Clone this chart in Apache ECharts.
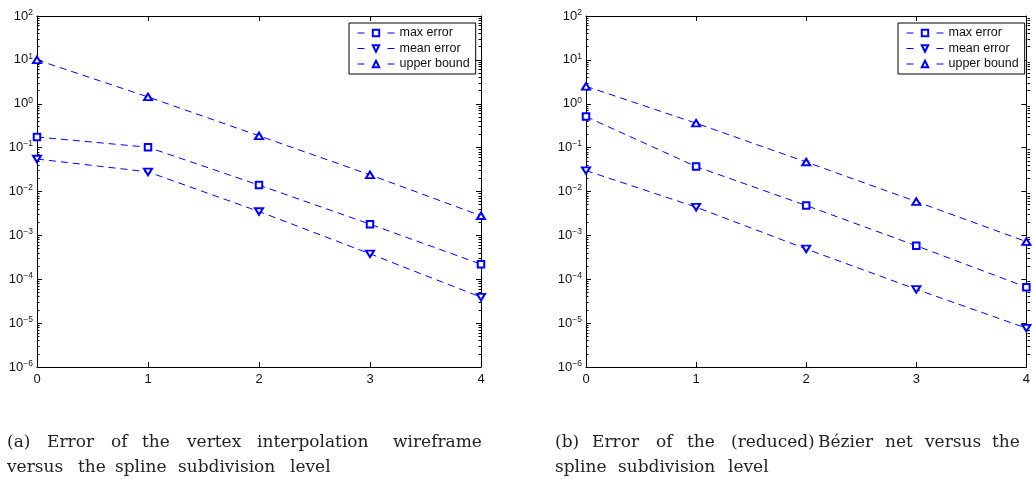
<!DOCTYPE html>
<html>
<head>
<meta charset="utf-8">
<script src="https://cdn.jsdelivr.net/npm/echarts@6/dist/echarts.min.js"></script>
<style>
  html, body { margin: 0; padding: 0; background: #fff; }
  #chart { width: 1033px; height: 479px; }
</style>
</head>
<body>
<div id="chart"></div>
<script>
// subdivision levels (x axis)
const levels = [0, 1, 2, 3, 4];
const xTickLabels = ['0', '1', '2', '3', '4'];

// (a) vertex interpolation wireframe
const wireMax = [0.175, 0.102, 0.014, 0.0018, 0.00022];
const wireMean = [0.055, 0.028, 0.0035, 0.00038, 0.000039];
const wireBound = [10, 1.43, 0.186, 0.024, 0.0028];

// (b) reduced Bezier net
const netMax = [0.51, 0.037, 0.0048, 0.00058, 0.000066];
const netMean = [0.030, 0.0044, 0.00049, 0.000059, 0.0000077];
const netBound = [2.5, 0.36, 0.047, 0.0059, 0.00072];

// y axis decades (exponents of 10)
const yExponents = [-6, -5, -4, -3, -2, -1, 0, 1, 2];
const seriesNames = ['max error', 'mean error', 'upper bound'];

const captionA1 = [['(a)', 7], ['Error', 47], ['of', 111], ['the', 142], ['vertex', 187], ['interpolation', 257], ['wireframe', 393]];
const captionA2 = [['versus', 7], ['the', 78], ['spline', 115], ['subdivision', 178], ['level', 290]];
const captionB1 = [['(b)', 555], ['Error', 592], ['of', 656], ['the', 687], ['(reduced)', 731], ['Bézier', 818], ['net', 885], ['versus', 925], ['the', 992]];
const captionB2 = [['spline', 555], ['subdivision', 618], ['level', 728]];

const blue = '#0000ff';
const sansFont = 'Liberation Sans';

// minor tick positions 2..9 x 10^k
const minorVals = [];
for (let e = yExponents[0]; e < yExponents[yExponents.length - 1]; e++) {
    for (let m = 2; m <= 9; m++) minorVals.push(m * Math.pow(10, e));
}

const supMap = {'-': '\u2212'};
function expLabel (v) {
    const e = Math.round(Math.log10(v));
    const s = String(e).split('').map(c => supMap[c] || c).join('');
    return '{b|10}{e|' + s + '}';
}

const plotRects = [
    {left: 37, top: 16, width: 444, height: 351},
    {left: 586, top: 16, width: 444, height: 351}
];
// grids 2,3 repeat 0,1 and only carry the minor ticks
const grids = plotRects.concat(plotRects);

const yMin = Math.pow(10, yExponents[0]);
const yMax = Math.pow(10, yExponents[yExponents.length - 1]);

const xAxes = [];
const yAxes = [];
plotRects.forEach((g, gi) => {
    ['bottom', 'top'].forEach(pos => {
        xAxes.push({
            type: 'value', gridIndex: gi, position: pos,
            min: levels[0], max: levels[levels.length - 1], interval: 1,
            axisLine: {show: true, onZero: false, lineStyle: {color: '#000', width: 1}},
            axisTick: {show: true, inside: true, length: 5, lineStyle: {color: '#000'}},
            axisLabel: {
                show: pos === 'bottom', margin: 6, color: '#111', fontSize: 13, fontFamily: sansFont,
                formatter: v => xTickLabels[levels.indexOf(v)]
            },
            splitLine: {show: false}
        });
    });
    ['left', 'right'].forEach(pos => {
        yAxes.push({
            type: 'log', logBase: 10, gridIndex: gi, position: pos,
            min: yMin, max: yMax, interval: 1,
            axisLine: {show: true, onZero: false, lineStyle: {color: '#000', width: 1}},
            axisTick: {show: true, inside: true, length: 5, lineStyle: {color: '#000'}},
            axisLabel: {
                show: pos === 'left', margin: 4, color: '#111', fontFamily: sansFont,
                formatter: expLabel,
                rich: {
                    b: {fontSize: 13, lineHeight: 16, fontFamily: sansFont, color: '#111'},
                    e: {fontSize: 8.5, lineHeight: 9, verticalAlign: 'top', fontFamily: sansFont, color: '#111'}
                }
            },
            splitLine: {show: false}
        });
    });
});
plotRects.forEach((g, gi) => {
    xAxes.push({
        type: 'value', gridIndex: gi + 2, min: levels[0], max: levels[levels.length - 1],
        show: false, axisLine: {onZero: false}
    });
    ['left', 'right'].forEach(pos => {
        yAxes.push({
            type: 'log', logBase: 10, gridIndex: gi + 2, position: pos,
            min: yMin, max: yMax,
            axisLine: {show: false, onZero: false},
            axisTick: {show: true, inside: true, length: 2.5, customValues: minorVals, lineStyle: {color: '#000'}},
            axisLabel: {show: false},
            splitLine: {show: false}
        });
    });
});

function makeSeries (name, values, gi) {
    const sym = {
        'max error': {symbol: 'emptyRect', size: 6.5, rot: 0},
        'mean error': {symbol: 'emptyTriangle', size: [8, 6.5], rot: 180},
        'upper bound': {symbol: 'emptyTriangle', size: [8, 6.5], rot: 0}
    }[name];
    return {
        name: name, type: 'line',
        xAxisIndex: gi * 2, yAxisIndex: gi * 2,
        data: levels.map((x, i) => [x, values[i]]),
        symbol: sym.symbol, symbolSize: sym.size, symbolRotate: sym.rot,
        showAllSymbol: true,
        lineStyle: {color: blue, width: 1, type: [7, 5]},
        itemStyle: {color: blue, borderColor: blue, borderWidth: 1},
        emphasis: {disabled: true},
        animation: false
    };
}

const series = [
    makeSeries('max error', wireMax, 0),
    makeSeries('mean error', wireMean, 0),
    makeSeries('upper bound', wireBound, 0),
    makeSeries('max error', netMax, 1),
    makeSeries('mean error', netMean, 1),
    makeSeries('upper bound', netBound, 1)
];

function makeLegend (left) {
    return {
        data: seriesNames, orient: 'vertical', left: left, top: 23,
        padding: [3, 6, 3, 8], itemGap: 1.5, itemWidth: 37, itemHeight: 8,
        backgroundColor: '#fff', borderColor: '#000', borderWidth: 1,
        lineStyle: {type: [7, 23], width: 1, color: blue},
        textStyle: {fontSize: 12.5, lineHeight: 14, color: '#111', fontFamily: sansFont},
        selectedMode: false
    };
}

function captionWords (words, y) {
    return words.map(w => ({
        type: 'text', x: w[1], y: y,
        style: {text: w[0], fontSize: 17, fontFamily: 'DejaVu Serif', fill: '#222', verticalAlign: 'middle'}
    }));
}

const chart = echarts.init(document.getElementById('chart'), null, {renderer: 'canvas'});
chart.setOption({
    backgroundColor: '#fff',
    animation: false,
    grid: grids,
    xAxis: xAxes,
    yAxis: yAxes,
    legend: [makeLegend(349), makeLegend(898)],
    series: series,
    graphic: [].concat(
        captionWords(captionA1, 443), captionWords(captionA2, 468),
        captionWords(captionB1, 443), captionWords(captionB2, 468)
    )
});
</script>
</body>
</html>
